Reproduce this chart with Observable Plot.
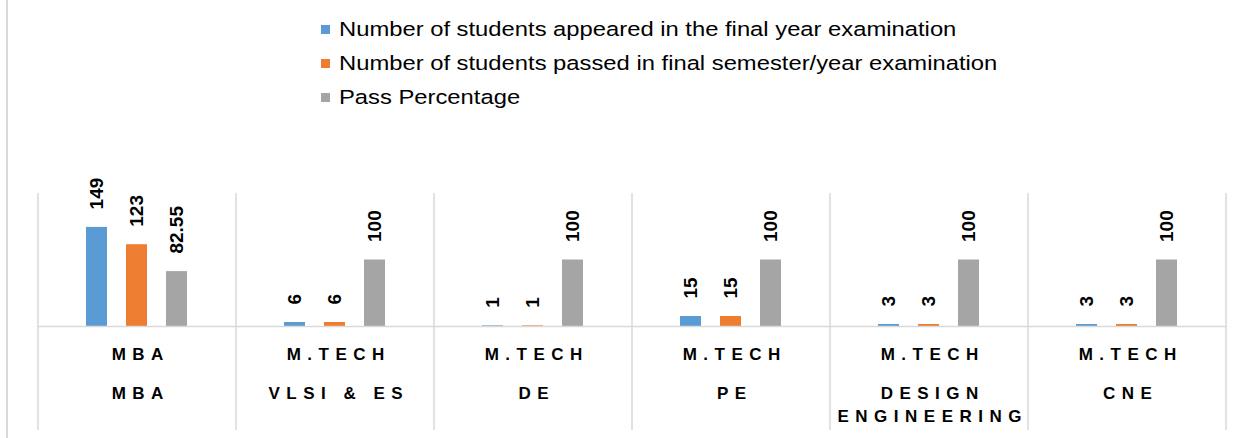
<!DOCTYPE html>
<html><head><meta charset="utf-8">
<script src="https://cdn.jsdelivr.net/npm/d3@7"></script>
<script src="https://cdn.jsdelivr.net/npm/@observablehq/plot@0.6"></script>
<style>
body{margin:0;background:#fff;font-family:"Liberation Sans",Arial,sans-serif;}
#wrap{position:relative;width:1244px;height:438px;overflow:hidden;background:#fff;}
#border{position:absolute;left:6px;top:0;width:0;height:438px;border-left:2px solid #d9d9d9;}
#legend{height:120px;box-sizing:border-box;padding-top:12px;padding-left:321px;}
.item{display:flex;align-items:center;height:34px;}
.sw{width:9px;height:9px;margin-right:9px;flex:none;}
.lbl{font-size:20.5px;color:#000;display:inline-block;transform:scaleX(1.16);transform-origin:left center;white-space:nowrap;}
#chart svg{display:block;}
</style></head><body>
<div id="wrap"><div id="border"></div><div id="legend"></div><div id="chart"></div></div>
<script>
const programs = ["MBA", "M.TECH", "M.TECH", "M.TECH", "M.TECH", "M.TECH"];
const specializations = ["MBA", "VLSI & ES", "DE", "PE", "DESIGN ENGINEERING", "CNE"];
const appeared = [149, 6, 1, 15, 3, 3];
const passed = [123, 6, 1, 15, 3, 3];
const passPercentage = [82.55, 100, 100, 100, 100, 100];
const seriesNames = [
  "Number of students appeared in the final year examination",
  "Number of students passed in final semester/year examination",
  "Pass Percentage"
];
const colors = ["#5B9BD5", "#ED7D31", "#A5A5A5"];
const seriesValues = [appeared, passed, passPercentage];

const rows = [];
specializations.forEach((g, i) => {
  seriesNames.forEach((s, j) => rows.push({group: g, series: s, value: seriesValues[j][i]}));
});

// Legend
const legend = d3.select("#legend");
seriesNames.forEach((s, j) => {
  const it = legend.append("div").attr("class", "item");
  it.append("span").attr("class", "sw").style("background", colors[j]);
  it.append("span").attr("class", "lbl").text(s);
});

const W = 1244, H = 318, MT = 73, MB = 112, ML = 36, MR = 16;
const plot = Plot.plot({
  width: W, height: H,
  marginTop: MT, marginBottom: MB, marginLeft: ML, marginRight: MR,
  style: {fontFamily: '"Liberation Sans", Arial, sans-serif', background: "transparent", color: "#000"},
  fx: {domain: specializations, padding: 0},
  x: {domain: seriesNames, paddingInner: 0.463, paddingOuter: 1.155, axis: null},
  y: {domain: [0, 200], axis: null},
  color: {domain: seriesNames, range: colors},
  marks: [
    Plot.barY(rows, {fx: "group", x: "series", y: "value", fill: "series"}),
    Plot.ruleY([0], {stroke: "#d9d9d9", strokeWidth: 1.5}),
    Plot.text(rows, {fx: "group", x: "series", y: "value", text: d => String(d.value),
      rotate: -90, textAnchor: "start", dy: -18, fontSize: 19, fontWeight: "bold", fill: "#000"}),
    Plot.axisFx({anchor: "bottom", tickSize: 0, tickPadding: 21, label: null,
      tickFormat: g => programs[specializations.indexOf(g)], fontSize: 17, fontWeight: "bold", dx: 3.25, fill: "#000"}),
    Plot.axisFx({anchor: "bottom", tickSize: 0, tickPadding: 55, label: null,
      tickFormat: g => g, fontSize: 17, fontWeight: "bold", lineWidth: 8, lineHeight: 1.41, dx: 3.25, fill: "#000"})
  ]
});
document.getElementById("chart").appendChild(plot);

const svg = d3.select(plot);
svg.selectAll('g[aria-label="fx-axis tick label"]')
  .style("font-size", "17px").style("font-weight", "bold").style("letter-spacing", "6.5px");
svg.selectAll('g[aria-label="fx-axis tick label"] text')
  .style("font-size", "17px").style("font-weight", "bold").style("letter-spacing", "6.5px");

// group separators from the fx scale
const fx = plot.scale("fx");
const edges = specializations.map(g => fx.apply(g));
edges.push(fx.apply(specializations[specializations.length - 1]) + fx.bandwidth);
svg.append("g").attr("aria-label", "separators")
  .selectAll("line").data(edges).join("line")
  .attr("x1", d => d).attr("x2", d => d)
  .attr("y1", MT).attr("y2", H - 8)
  .attr("stroke", "#d9d9d9").attr("stroke-width", 1.5);
</script>
</body></html>
